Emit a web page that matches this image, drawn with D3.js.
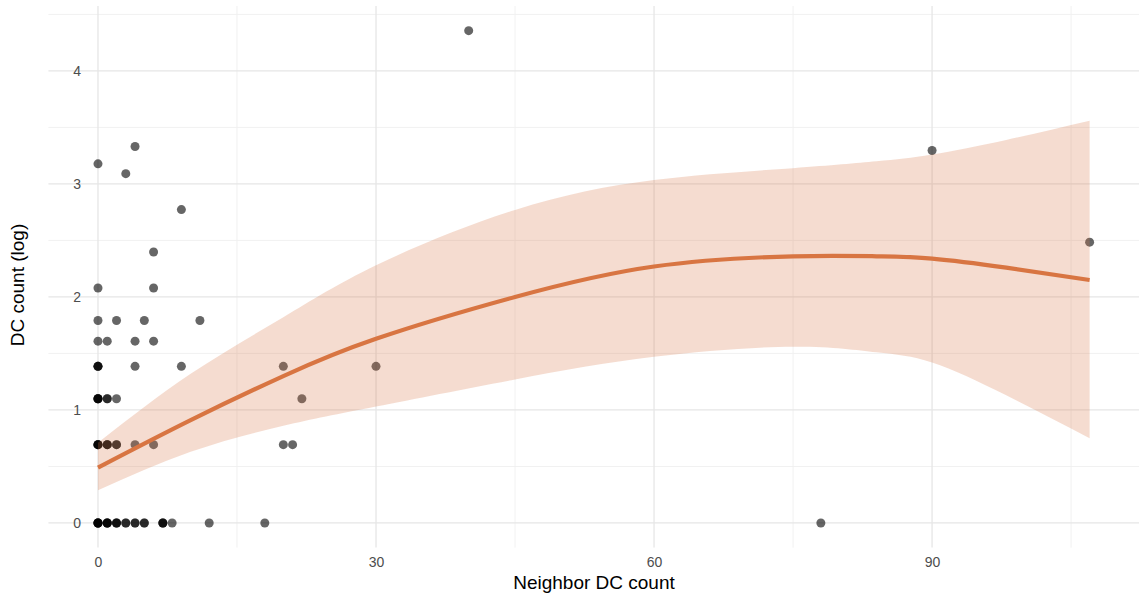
<!DOCTYPE html>
<html>
<head>
<meta charset="utf-8">
<script src="https://cdn.jsdelivr.net/npm/d3@7"></script>
<style>
  body { margin: 0; background: #fff; }
  svg { font-family: "Liberation Sans", Arial, sans-serif; }
</style>
</head>
<body>
<svg id="chart"></svg>
<script>
// scatter points (duplicates = overplotted points)
const neighborCount = [
  0, 0, 0, 0, 0, 1, 1, 1, 1, 2, 2, 2, 3, 3, 4, 4, 5, 5, 7, 7, 7, 8, 12, 18, 78,
  0, 0, 0, 0, 1, 1, 1, 2, 2, 4, 6, 20, 21,
  0, 0, 0, 0, 1, 1, 2, 22,
  0, 0, 0, 4, 9, 20, 30,
  0, 1, 4, 6,
  0, 2, 5, 11,
  0, 6,
  6, 9, 3, 0, 4, 40, 90, 107
];
const dcLog = [
  0, 0, 0, 0, 0, 0, 0, 0, 0, 0, 0, 0, 0, 0, 0, 0, 0, 0, 0, 0, 0, 0, 0, 0, 0,
  0.693, 0.693, 0.693, 0.693, 0.693, 0.693, 0.693, 0.693, 0.693, 0.693, 0.693, 0.693, 0.693,
  1.099, 1.099, 1.099, 1.099, 1.099, 1.099, 1.099, 1.099,
  1.386, 1.386, 1.386, 1.386, 1.386, 1.386, 1.386,
  1.609, 1.609, 1.609, 1.609,
  1.792, 1.792, 1.792, 1.792,
  2.079, 2.079,
  2.398, 2.773, 3.091, 3.178, 3.332, 4.357, 3.296, 2.485
];

// smoother fit and confidence band
const fitX  = [0, 10, 20, 30, 45, 60, 75, 84, 90, 98, 107];
const fitY  = [0.49, 0.91, 1.30, 1.63, 2.00, 2.27, 2.36, 2.36, 2.34, 2.26, 2.15];
const fitLo = [0.29, 0.63, 0.86, 1.03, 1.27, 1.47, 1.56, 1.51, 1.42, 1.13, 0.75];
const fitHi = [0.71, 1.32, 1.82, 2.28, 2.77, 3.035, 3.14, 3.20, 3.26, 3.39, 3.56];

const xTicks = [0, 30, 60, 90];
const xMinor = [15, 45, 75, 105];
const yTicks = [0, 1, 2, 3, 4];
const yMinor = [0.5, 1.5, 2.5, 3.5, 4.5];

const width = 1139, height = 597;
const svg = d3.select("#chart").attr("width", width).attr("height", height);

const x = d3.scaleLinear().domain([-5.35, 112.35]).range([48.4, 1139.2]);
const y = d3.scaleLinear().domain([-0.218, 4.575]).range([547.6, 6]);

const smoothColor = "#D87542";

// grid
const grid = svg.append("g");
grid.selectAll(".vmin").data(xMinor).enter().append("line")
  .attr("x1", d => x(d)).attr("x2", d => x(d))
  .attr("y1", y.range()[1]).attr("y2", y.range()[0])
  .attr("stroke", "#efefef").attr("stroke-width", 0.9);
grid.selectAll(".hmin").data(yMinor).enter().append("line")
  .attr("y1", d => y(d)).attr("y2", d => y(d))
  .attr("x1", x.range()[0]).attr("x2", x.range()[1])
  .attr("stroke", "#efefef").attr("stroke-width", 0.9);
grid.selectAll(".vmaj").data(xTicks).enter().append("line")
  .attr("x1", d => x(d)).attr("x2", d => x(d))
  .attr("y1", y.range()[1]).attr("y2", y.range()[0])
  .attr("stroke", "#e6e6e6").attr("stroke-width", 1.3);
grid.selectAll(".hmaj").data(yTicks).enter().append("line")
  .attr("y1", d => y(d)).attr("y2", d => y(d))
  .attr("x1", x.range()[0]).attr("x2", x.range()[1])
  .attr("stroke", "#e6e6e6").attr("stroke-width", 1.3);

// points
svg.append("g").selectAll("circle")
  .data(d3.range(neighborCount.length))
  .enter().append("circle")
  .attr("cx", i => x(neighborCount[i]))
  .attr("cy", i => y(dcLog[i]))
  .attr("r", 4.5)
  .attr("fill", "#000")
  .attr("fill-opacity", 0.6);

// ribbon
const fitIdx = d3.range(fitX.length);
svg.append("path")
  .datum(fitIdx)
  .attr("d", d3.area()
    .x(i => x(fitX[i]))
    .y0(i => y(fitLo[i]))
    .y1(i => y(fitHi[i]))
    .curve(d3.curveNatural))
  .attr("fill", smoothColor)
  .attr("fill-opacity", 0.25);

// fitted line
svg.append("path")
  .datum(fitIdx)
  .attr("d", d3.line()
    .x(i => x(fitX[i]))
    .y(i => y(fitY[i]))
    .curve(d3.curveNatural))
  .attr("fill", "none")
  .attr("stroke", smoothColor)
  .attr("stroke-width", 4.2);

// axes (labels only, like theme_minimal)
const xAxis = svg.append("g")
  .attr("transform", "translate(0," + 553 + ")")
  .call(d3.axisBottom(x).tickValues(xTicks).tickFormat(d3.format("d")).tickSize(0).tickPadding(4));
xAxis.select(".domain").remove();
xAxis.selectAll("text").attr("fill", "#4d4d4d").style("font-size", "14px")
  .style("font-family", "Liberation Sans, Arial, sans-serif");

const yAxis = svg.append("g")
  .attr("transform", "translate(" + 81 + ",0)")
  .call(d3.axisLeft(y).tickValues(yTicks).tickFormat(d3.format("d")).tickSize(0).tickPadding(0));
yAxis.select(".domain").remove();
yAxis.selectAll("text").attr("fill", "#4d4d4d").style("font-size", "14px")
  .style("font-family", "Liberation Sans, Arial, sans-serif");

svg.append("text")
  .attr("x", 594)
  .attr("y", 589)
  .attr("text-anchor", "middle")
  .attr("fill", "#000")
  .style("font-size", "19px")
  .text("Neighbor DC count");

svg.append("text")
  .attr("transform", "translate(24,285) rotate(-90)")
  .attr("text-anchor", "middle")
  .attr("fill", "#000")
  .style("font-size", "19px")
  .text("DC count (log)");
</script>
</body>
</html>
